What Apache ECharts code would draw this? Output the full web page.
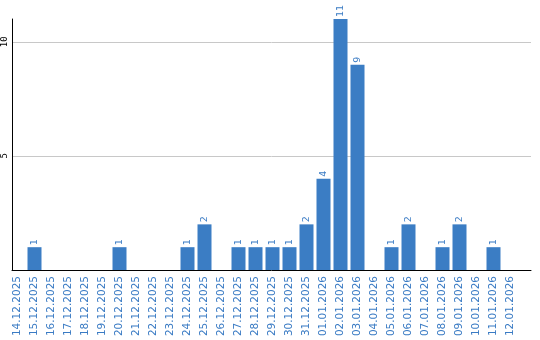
<!DOCTYPE html>
<html><head><meta charset="utf-8">
<script src="https://cdn.jsdelivr.net/npm/echarts@6/dist/echarts.min.js"></script>
<style>html,body{margin:0;padding:0;background:#fff}#c{width:540px;height:340px}</style>
</head><body><div id="c"></div>
<script>
const categories = ["14.12.2025","15.12.2025","16.12.2025","17.12.2025","18.12.2025","19.12.2025","20.12.2025","21.12.2025","22.12.2025","23.12.2025","24.12.2025","25.12.2025","26.12.2025","27.12.2025","28.12.2025","29.12.2025","30.12.2025","31.12.2025","01.01.2026","02.01.2026","03.01.2026","04.01.2026","05.01.2026","06.01.2026","07.01.2026","08.01.2026","09.01.2026","10.01.2026","11.01.2026","12.01.2026"];
const values = [0,1,0,0,0,0,1,0,0,0,1,2,0,1,1,1,1,2,4,11,9,0,1,2,0,1,2,0,1,0];
const yTicks = [5, 10];
const yMax = 11;

const chart = echarts.init(document.getElementById('c'), null, {renderer:'canvas'});
chart.setOption({
  animation:false,
  grid:[
    {left:9,right:21,top:19,bottom:70,containLabel:false},
    {left:10,right:9,top:19,bottom:70,containLabel:false}
  ],
  xAxis:[
    {type:'category',data:categories,gridIndex:0,
      axisLine:{show:false},axisTick:{show:false},
      axisLabel:{rotate:90,interval:0,margin:6,color:'#3a7bc4',fontFamily:'DejaVu Sans',fontSize:10.5}
    },
    {type:'value',gridIndex:1,min:0,max:1,
      axisLine:{show:true,onZero:false,lineStyle:{color:'#000',width:1}},
      axisTick:{show:false},axisLabel:{show:false},splitLine:{show:false}
    }
  ],
  yAxis:[
    {type:'value',gridIndex:0,min:0,max:yMax,show:false,splitLine:{show:false}},
    {type:'value',gridIndex:1,min:0,max:yMax,interval:5,
      axisLine:{show:true,lineStyle:{color:'#000',width:1}},
      axisTick:{show:false},
      splitLine:{show:true,showMaxLine:false,showMinLine:false,lineStyle:{color:'#c8c8c8'}},
      axisLabel:{rotate:90,margin:3,align:'center',verticalAlign:'bottom',color:'#000',
        fontFamily:'DejaVu Sans Mono',fontSize:9,showMaxLabel:false,
        formatter:v=>yTicks.includes(v)?String(v):''}
    }
  ],
  series:[{type:'bar',xAxisIndex:0,yAxisIndex:0,data:values.map(v=>v===0?null:v),barWidth:14,
    itemStyle:{color:'#3b7dc4'},
    label:{show:true,position:'top',rotate:90,align:'left',verticalAlign:'middle',distance:2,
      color:'#3a7bc4',fontFamily:'DejaVu Sans',fontSize:9.5}
  }]
});
</script></body></html>
